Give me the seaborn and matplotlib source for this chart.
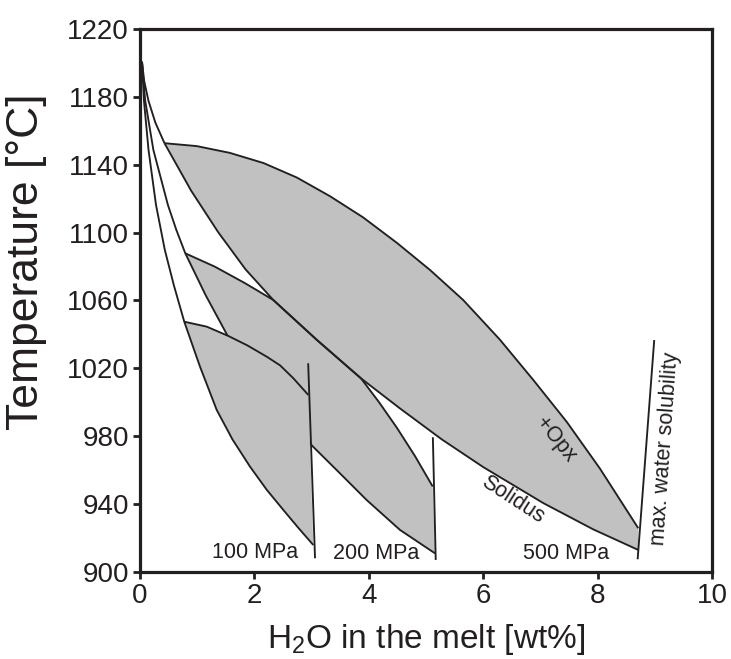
import numpy as np
import matplotlib
matplotlib.use("Agg")
import matplotlib.pyplot as plt
import seaborn as sns

# ---------------- data ----------------
# leftmost curve from the origin / lower boundary of the 100 MPa field
left_x = [0.035, 0.068, 0.149, 0.280, 0.434, 0.591, 0.774, 1.049, 1.341, 1.617,
          1.923, 2.212, 2.505, 2.771, 3.030]
left_t = [1200.7, 1178.2, 1148.7, 1116.3, 1089.8, 1069.1, 1047.5, 1021.0, 995.5, 978.1,
          962.1, 948.6, 936.6, 925.9, 915.9]

# middle curve from the origin / lower boundary of the 200 MPa field
mid_x = [0.035, 0.089, 0.234, 0.488, 0.635, 0.792, 1.145, 1.533, 2.206, 3.012,
         3.479, 3.963, 4.545, 5.157]
mid_t = [1200.7, 1178.2, 1148.7, 1116.3, 1101.6, 1087.8, 1063.3, 1039.1, 1006.7, 974.3,
         958.7, 942.4, 924.8, 911.0]

# curve from the origin to the start of the 500 MPa field
right_x = [0.035, 0.072, 0.147, 0.269, 0.428]
right_t = [1200.7, 1189.6, 1177.8, 1164.8, 1152.7]

# 500 MPa field: +Opx (upper) and Solidus (lower)
opx_x = [0.428, 0.99, 1.57, 2.16, 2.74, 3.32, 3.90, 4.49, 5.07, 5.65, 6.29, 6.88,
         7.46, 8.04, 8.711]
opx_t = [1152.7, 1151.0, 1147.0, 1141.0, 1132.5, 1121.5, 1109.0, 1094.0, 1078.0, 1060.3,
         1037.0, 1013.0, 988.5, 961.0, 925.8]
sol_x = [0.428, 0.896, 1.364, 1.846, 2.330, 3.094, 3.864, 4.545, 5.274, 6.002,
         7.051, 7.925, 8.711]
sol_t = [1152.7, 1124.6, 1100.4, 1078.3, 1060.3, 1036.7, 1014.1, 996.4, 978.2, 961.8,
         940.6, 925.1, 913.0]

# upper arcs of the 200 MPa and 100 MPa fields
arc200_x = [0.792, 1.311, 1.836, 2.330, 3.094, 3.864, 4.178, 4.493, 4.808, 5.117]
arc200_t = [1087.8, 1079.9, 1070.2, 1060.3, 1036.7, 1014.1, 1000.1, 984.9, 968.3, 950.4]
arc100_x = [0.774, 1.166, 1.544, 1.879, 2.215, 2.448, 2.680, 2.943]
arc100_t = [1047.5, 1044.6, 1039.1, 1033.5, 1026.9, 1021.8, 1014.2, 1004.3]

# max. water solubility lines
sat100_x = [2.94, 3.06]
sat100_t = [1023.0, 908.1]
sat200_x = [5.12, 5.17]
sat200_t = [979.4, 907.1]
sat500_x = [8.99, 8.70]
sat500_t = [1036.7, 907.5]

labels = ["100 MPa", "200 MPa", "500 MPa"]
label_x = [2.01, 4.12, 7.44]
label_t = [911.2, 911.0, 911.0]

x_ticks = [0, 2, 4, 6, 8, 10]
y_ticks = [900, 940, 980, 1020, 1060, 1100, 1140, 1180, 1220]

# ---------------- style ----------------
sns.set_theme(style="white")
plt.rcParams["font.family"] = ["Liberation Sans", "DejaVu Sans"]
plt.rcParams["mathtext.default"] = "regular"

LINE = "#231f20"
FILL = "#c1c1c1"
LW = 1.35

fig = plt.figure(figsize=(7.31, 6.59), dpi=100)
ax = fig.add_axes([140 / 731, 1 - 572 / 659, 572 / 731, 543 / 659])


def line(xs, ts, z=3):
    sns.lineplot(x=np.asarray(xs), y=np.asarray(ts), sort=False, estimator=None,
                 color=LINE, lw=LW, ax=ax, zorder=z, solid_joinstyle="round",
                 solid_capstyle="butt")


# fields (the 100 MPa field hides the part of the 200 MPa boundary beneath it)
ax.fill(np.r_[opx_x, sol_x[::-1]], np.r_[opx_t, sol_t[::-1]], color=FILL, lw=0, zorder=1)
ax.fill(np.r_[arc200_x, mid_x[5:][::-1]], np.r_[arc200_t, mid_t[5:][::-1]],
        color=FILL, lw=0, zorder=1.5)
line(mid_x, mid_t, z=2)
ax.fill(np.r_[left_x[6:], arc100_x[::-1]], np.r_[left_t[6:], arc100_t[::-1]],
        color=FILL, lw=0, zorder=2.5)

for xs, ts in [(left_x, left_t), (right_x, right_t), (opx_x, opx_t), (sol_x, sol_t),
               (arc200_x, arc200_t), (arc100_x, arc100_t), (sat100_x, sat100_t),
               (sat200_x, sat200_t), (sat500_x, sat500_t)]:
    line(xs, ts)

# text annotations
TXT = dict(fontsize=15.5, color="#231f20", zorder=5, ha="center", va="center")
for s, lx, lt in zip(labels, label_x, label_t):
    ax.text(lx, lt, s, **TXT)
ax.text(6.51, 942.4, "Solidus", rotation=-33, rotation_mode="anchor", **TXT)
ax.text(7.26, 978.0, "+Opx", rotation=-51, rotation_mode="anchor", **TXT)
ax.text(9.18, 972.8, "max. water solubility", rotation=86, rotation_mode="anchor", **TXT)

# axes
ax.set_xlim(0, 10)
ax.set_ylim(900, 1220)
ax.set_xticks(x_ticks)
ax.set_yticks(y_ticks)
ax.set_xticklabels([str(v) for v in x_ticks])
ax.set_yticklabels([str(v) for v in y_ticks])
ax.tick_params(axis="both", which="major", direction="out", length=5, width=2,
               color="#231f20", labelsize=20, labelcolor="#231f20", pad=3,
               bottom=True, left=True, top=False, right=False)
for sp in ax.spines.values():
    sp.set_visible(True)
    sp.set_linewidth(2.3)
    sp.set_color("#231f20")

ax.set_xlabel(r"H$_{2}$O in the melt [wt%]", fontsize=24, color="#231f20", labelpad=9)
ax.set_ylabel("Temperature [°C]", fontsize=32, color="#231f20")
ax.yaxis.set_label_coords(-0.163, 0.571)
ax.set_facecolor("white")
fig.patch.set_facecolor("white")

fig.savefig("out.png", dpi=100, facecolor="white")
